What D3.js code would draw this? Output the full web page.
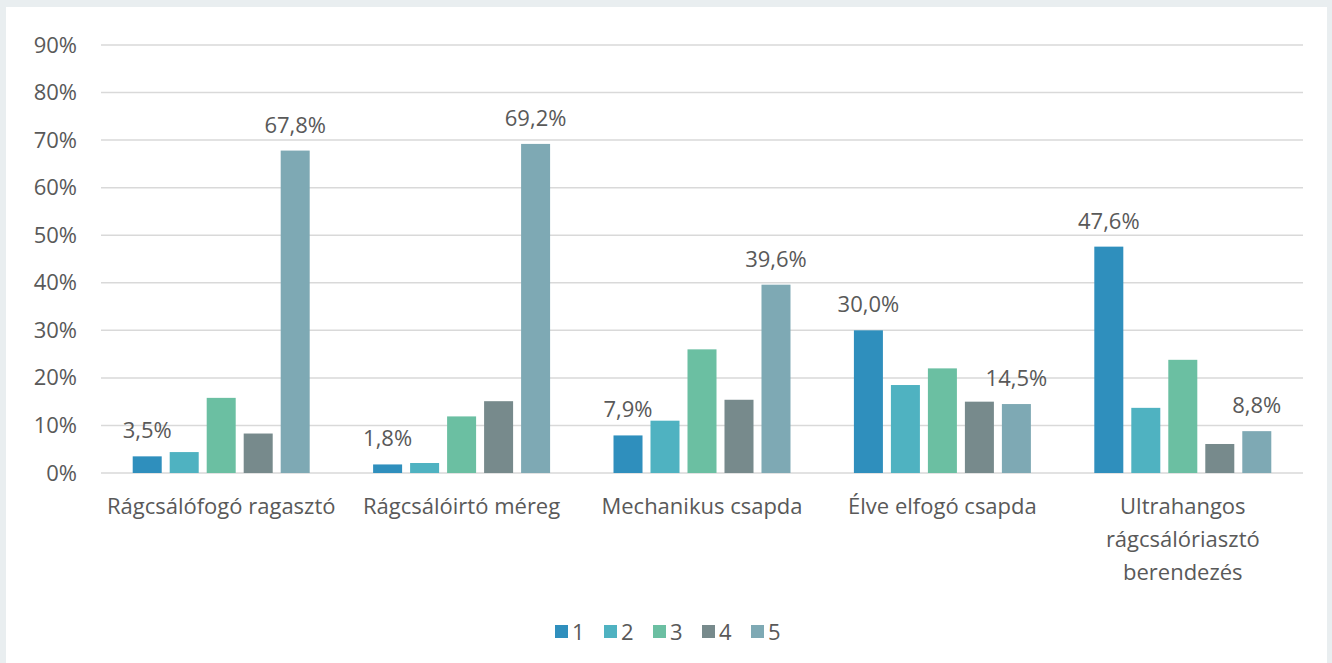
<!DOCTYPE html>
<html>
<head>
<meta charset="utf-8">
<script src="https://cdn.jsdelivr.net/npm/d3@7"></script>
<style>
	html, body { margin: 0; padding: 0; background: #e9eef0; }
	svg { display: block; }
	text { font-family: "Open Sans", "Noto Sans", sans-serif; fill: #595959; }
</style>
</head>
<body>
<svg id="chart" width="1332" height="663"></svg>
<script>
// categories and series (values in %)
const categories = ['Rágcsálófogó ragasztó', 'Rágcsálóirtó méreg', 'Mechanikus csapda', 'Élve elfogó csapda', 'Ultrahangos rágcsálóriasztó berendezés']
const seriesNames = ['1', '2', '3', '4', '5']
const s1 = [3.5, 1.8, 7.9, 30.0, 47.6]
const s2 = [4.4, 2.1, 11.0, 18.5, 13.7]
const s3 = [15.8, 11.9, 26.0, 22.0, 23.8]
const s4 = [8.3, 15.1, 15.4, 15.0, 6.1]
const s5 = [67.8, 69.2, 39.6, 14.5, 8.8]
const yTicks = [0, 10, 20, 30, 40, 50, 60, 70, 80, 90]
// only series 1 and 5 carry value labels
const labelledSeries = ['1', '5']

const colors = ['#2f8fbd', '#4fb2c1', '#6bbfa2', '#778a8c', '#7ea9b4']
const seriesValues = [s1, s2, s3, s4, s5]

const svg = d3.select('#chart')
const W = 1332, H = 663
const margin = {left: 101, right: 29, top: 45, bottom: 190}
const fs = 22

// white panel
svg.append('rect').attr('x', 6).attr('y', 7).attr('width', 1321).attr('height', H - 7).attr('fill', '#fff')

const x0 = d3.scaleBand().domain(categories).range([margin.left, W - margin.right]).paddingInner(0).paddingOuter(0)
const x1 = d3.scaleBand().domain(seriesNames).range([0, x0.bandwidth()]).paddingInner(0.216).paddingOuter(0.857)
const y = d3.scaleLinear().domain([0, 90]).range([H - margin.bottom, margin.top])

// gridlines
svg.append('g')
	.selectAll('line')
	.data(yTicks)
	.join('line')
	.attr('x1', margin.left)
	.attr('x2', W - margin.right)
	.attr('y1', d => y(d))
	.attr('y2', d => y(d))
	.attr('stroke', '#d9d9d9')
	.attr('stroke-width', 1.5)

// y axis labels
const yAxis = d3.axisLeft(y).tickValues(yTicks).tickFormat(d => d + '%').tickSize(0).tickPadding(0)
svg.append('g')
	.attr('transform', `translate(${margin.left - 24},0)`)
	.call(yAxis)
	.call(g => g.select('.domain').remove())
	.selectAll('text')
	.attr('font-size', fs)
	.attr('font-family', '"Open Sans", "Noto Sans", sans-serif')
	.attr('fill', '#595959')

// bars
const groups = svg.append('g')
	.selectAll('g')
	.data(categories)
	.join('g')
	.attr('transform', d => `translate(${x0(d)},0)`)

groups.selectAll('rect')
	.data((c, i) => seriesNames.map((s, j) => ({s, j, v: seriesValues[j][i]})))
	.join('rect')
	.attr('x', d => x1(d.s))
	.attr('y', d => y(d.v))
	.attr('width', x1.bandwidth())
	.attr('height', d => y(0) - y(d.v))
	.attr('fill', d => colors[d.j])

groups.selectAll('text.val')
	.data((c, i) => seriesNames.map((s, j) => ({s, j, v: seriesValues[j][i]})).filter(d => labelledSeries.includes(d.s)))
	.join('text')
	.attr('class', 'val')
	.attr('x', d => x1(d.s) + x1.bandwidth() / 2)
	.attr('y', d => y(d.v) - 18)
	.attr('text-anchor', 'middle')
	.attr('font-size', fs)
	.text(d => d.v.toFixed(1).replace('.', ',') + '%')

// category labels, wrapped to band width
const xAxis = d3.axisBottom(x0).tickSize(0).tickPadding(0)
svg.append('g')
	.attr('transform', `translate(0,${y(0) + 25})`)
	.call(xAxis)
	.call(g => g.select('.domain').remove())
	.selectAll('text')
	.attr('font-size', fs)
	.attr('font-family', '"Open Sans", "Noto Sans", sans-serif')
	.attr('fill', '#595959')
	.call(wrap, x0.bandwidth() - 4)

function wrap(texts, width) {
	texts.each(function () {
		const text = d3.select(this)
		const words = text.text().split(/\s+/)
		text.text(null)
		let line = []
		let tspan = text.append('tspan').attr('x', 0).attr('dy', '0.71em')
		for (const w of words) {
			line.push(w)
			tspan.text(line.join(' '))
			if (tspan.node().getComputedTextLength() > width && line.length > 1) {
				line.pop()
				tspan.text(line.join(' '))
				line = [w]
				tspan = text.append('tspan').attr('x', 0).attr('dy', '1.5em').text(w)
			}
		}
	})
}

// legend
const legend = svg.append('g').attr('transform', 'translate(0,632)')
const itemW = 49
const legendX = 555
seriesNames.forEach((s, j) => {
	const g = legend.append('g').attr('transform', `translate(${legendX + j * itemW},0)`)
	g.append('rect').attr('x', 0).attr('y', -7).attr('width', 13).attr('height', 13).attr('fill', colors[j])
	g.append('text').attr('x', 17).attr('y', 0).attr('dy', '0.35em').attr('font-size', fs).text(s)
})
</script>
</body>
</html>
